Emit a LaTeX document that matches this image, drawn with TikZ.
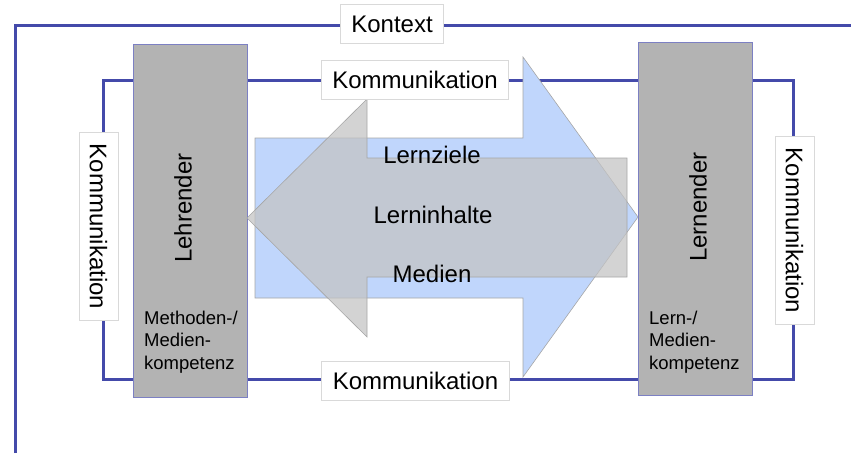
\documentclass[tikz,border=0pt]{standalone}
\usepackage{fontspec}
\setmainfont{Liberation Sans}
\definecolor{kommblau}{RGB}{68,74,170}
\definecolor{pfeilblau}{RGB}{192,214,252}
\definecolor{boxgrau}{RGB}{179,179,179}
\definecolor{pfeilgrau}{RGB}{195,195,195}
\tikzset{
	rolle/.style={draw=kommblau!70, line width=0.8pt, fill=boxgrau, minimum width=114pt, minimum height=353pt, inner sep=0pt},
	etikett/.style={draw=black!15, fill=white, line width=0.6pt, font=\fontsize{24}{28}\selectfont, inner xsep=11pt, inner ysep=0pt, minimum height=39pt},
	gross/.style={font=\fontsize{24}{28}\selectfont, inner sep=0pt},
	klein/.style={font=\fontsize{18.5}{22.5}\selectfont, align=left, inner sep=0pt},
	linie/.style={draw=kommblau, line width=3pt},
}

\begin{document}
\begin{tikzpicture}[x=1pt, y=-1pt]
			%%%%% START %%%%%
			\useasboundingbox (0, 0) rectangle (851, 453);
			
			\coordinate (kx unten) at (15, 453);
			\coordinate (kx ecke) at (15, 25);
			\coordinate (kx rechts) at (851, 25);
			\draw[linie] (kx unten) -- (kx ecke) -- (kx rechts);
			
			\coordinate (ko) at (103, 80);
			\coordinate (ku) at (793, 379);
			\draw[linie] (ko) rectangle (ku);
			
			\node[rolle] (lehrender) at (190, 220.5) {};
			\node[rolle] (lernender) at (695.5, 219) {};
			
			\draw[fill=pfeilblau, draw=black!35, line width=0.6pt] (255, 138) -- (523, 138) -- (523, 57) -- (638, 217) -- (523, 377) -- (523, 298) -- (255, 298) -- cycle;
			\draw[fill=pfeilgrau, fill opacity=0.73, draw=black!35, line width=0.6pt] (627, 158) -- (367, 158) -- (367, 99) -- (247, 218) -- (367, 337) -- (367, 277) -- (627, 277) -- cycle;
			
			\node[gross] (lernziele) at (432, 155) {Lernziele};
			\node[gross] (lerninhalte) at (433, 215) {Lerninhalte};
			\node[gross] (medien) at (432, 274) {Medien};
			
			\node[gross, rotate=90] (lehrender text) at (183, 208) {Lehrender};
			\node[gross, rotate=90] (lernender text) at (698, 207) {Lernender};
			\node[klein, anchor=north west] (methoden) at (144, 310.5) {Methoden-/\\Medien-\\kompetenz};
			\node[klein, anchor=north west] (lernkomp) at (649, 310.5) {Lern-/\\Medien-\\kompetenz};
			
			\node[etikett] (kontext) at (392, 24) {Kontext};
			\node[etikett] (komm oben) at (415, 79.5) {Kommunikation};
			\node[etikett] (komm unten) at (415.5, 381) {Kommunikation};
			\node[etikett, rotate=-90] (komm links) at (98.5, 226.5) {Kommunikation};
			\node[etikett, rotate=-90] (komm rechts) at (794.5, 230.5) {Kommunikation};
			%%%%% END %%%%%
\end{tikzpicture}
\end{document}
